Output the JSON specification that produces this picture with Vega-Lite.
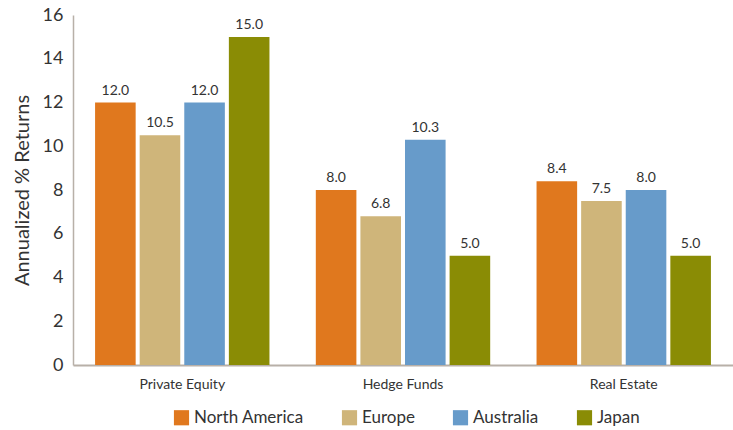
{
  "$schema": "https://vega.github.io/schema/vega-lite/v6.json",
  "width": 660,
  "height": 350,
  "autosize": {"type": "none"},
  "padding": {"left": 73, "top": 15, "right": 0, "bottom": 65},
  "config": {"view": {"stroke": null}, "font": "Lato"},
  "data": {"values": [
    {"category": "Private Equity", "region": "North America", "value": 12.0},
    {"category": "Private Equity", "region": "Europe", "value": 10.5},
    {"category": "Private Equity", "region": "Australia", "value": 12.0},
    {"category": "Private Equity", "region": "Japan", "value": 15.0},
    {"category": "Hedge Funds", "region": "North America", "value": 8.0},
    {"category": "Hedge Funds", "region": "Europe", "value": 6.8},
    {"category": "Hedge Funds", "region": "Australia", "value": 10.3},
    {"category": "Hedge Funds", "region": "Japan", "value": 5.0},
    {"category": "Real Estate", "region": "North America", "value": 8.4},
    {"category": "Real Estate", "region": "Europe", "value": 7.5},
    {"category": "Real Estate", "region": "Australia", "value": 8.0},
    {"category": "Real Estate", "region": "Japan", "value": 5.0}
  ]},
  "encoding": {
    "x": {"field": "category", "type": "nominal", "sort": ["Private Equity", "Hedge Funds", "Real Estate"],
      "scale": {"paddingInner": 0.21, "paddingOuter": 0.1},
      "axis": {"title": null, "labelAngle": 0, "ticks": false, "domainColor": "#b8b0a8", "domainWidth": 2, "labelFontSize": 14, "labelColor": "#333", "labelPadding": 12}},
    "xOffset": {"field": "region", "type": "nominal", "sort": ["North America", "Europe", "Australia", "Japan"], "scale": {"paddingInner": 0.09}},
    "y": {"field": "value", "type": "quantitative", "scale": {"domain": [0, 16]},
      "axis": {"title": "Annualized % Returns", "titleFontSize": 20, "titleFontWeight": "normal", "titleColor": "#333", "titlePadding": 10, "grid": false, "ticks": false, "tickCount": 8, "domainColor": "#b8b0a8", "domainWidth": 1.5, "labelFontSize": 18, "labelColor": "#333", "labelPadding": 10}}
  },
  "layer": [
    {"mark": {"type": "bar"},
     "encoding": {"color": {"field": "region", "type": "nominal", "sort": ["North America", "Europe", "Australia", "Japan"],
       "scale": {"domain": ["North America", "Europe", "Australia", "Japan"], "range": ["#e0781e", "#cfb57a", "#679bca", "#8a8c05"]},
       "legend": {"title": null, "orient": "none", "legendX": 100, "legendY": 394, "direction": "horizontal", "symbolType": "square", "symbolSize": 230, "symbolOpacity": 1, "labelFontSize": 17, "labelColor": "#333", "columnPadding": 37}}}},
    {"mark": {"type": "text", "dy": -12, "fontSize": 14, "color": "#333"},
     "encoding": {"text": {"field": "value", "type": "quantitative", "format": ".1f"}}}
  ]
}
